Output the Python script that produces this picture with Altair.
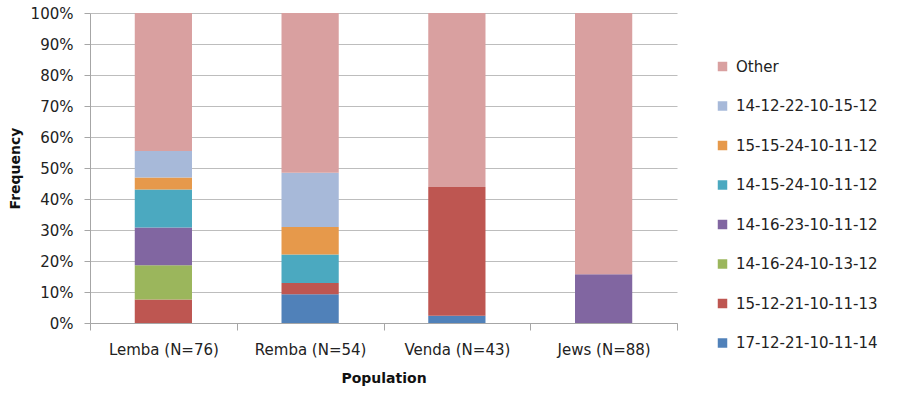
import altair as alt
import pandas as pd

populations = ["Lemba (N=76)", "Remba (N=54)", "Venda (N=43)", "Jews (N=88)"]

# stacked bottom -> top
haplotypes = [
    "17-12-21-10-11-14",
    "15-12-21-10-11-13",
    "14-16-24-10-13-12",
    "14-16-23-10-11-12",
    "14-15-24-10-11-12",
    "15-15-24-10-11-12",
    "14-12-22-10-15-12",
    "Other",
]
colors = ["#5081B9", "#BE5651", "#9BB65C", "#8166A1", "#4BA9C0", "#E6994B", "#A7B9D9", "#D9A0A0"]

# frequency (%) per population, in the order of `populations`
h_17_12_21_10_11_14 = [0.0, 9.3, 2.3, 0.0]
h_15_12_21_10_11_13 = [7.6, 3.6, 41.6, 0.0]
h_14_16_24_10_13_12 = [11.0, 0.0, 0.0, 0.0]
h_14_16_23_10_11_12 = [12.2, 0.0, 0.0, 15.7]
h_14_15_24_10_11_12 = [12.3, 9.2, 0.0, 0.0]
h_15_15_24_10_11_12 = [3.8, 8.9, 0.0, 0.0]
h_14_12_22_10_15_12 = [8.6, 17.5, 0.0, 0.0]
h_other = [44.5, 51.5, 56.1, 84.3]

series = [
    h_17_12_21_10_11_14,
    h_15_12_21_10_11_13,
    h_14_16_24_10_13_12,
    h_14_16_23_10_11_12,
    h_14_15_24_10_11_12,
    h_15_15_24_10_11_12,
    h_14_12_22_10_15_12,
    h_other,
]

rows = []
for i, (h, vals) in enumerate(zip(haplotypes, series)):
    for p, v in zip(populations, vals):
        rows.append({"Population": p, "Haplotype": h, "idx": i, "value": v / 100.0})
df = pd.DataFrame(rows)

legend_order = list(reversed(haplotypes))
legend_colors = list(reversed(colors))

FONT = "DejaVu Sans"

chart = (
    alt.Chart(df)
    .mark_bar(width={"band": 0.39})
    .encode(
        x=alt.X(
            "Population:N",
            sort=populations,
            scale=alt.Scale(paddingInner=0, paddingOuter=0),
            axis=alt.Axis(
                title="Population",
                labelAngle=0,
                tickBand="extent",
                tickSize=7,
                labelPadding=12,
                titlePadding=14,
                labelFontSize=15,
                titleFontSize=14,
            ),
        ),
        y=alt.Y(
            "value:Q",
            stack="zero",
            scale=alt.Scale(domain=[0, 1], nice=False),
            axis=alt.Axis(
                title="Frequency",
                format=".0%",
                values=[i / 10 for i in range(11)],
                tickSize=6,
                labelPadding=11,
                titlePadding=8,
                labelFontSize=15,
                titleFontSize=14,
            ),
        ),
        color=alt.Color(
            "Haplotype:N",
            scale=alt.Scale(domain=legend_order, range=legend_colors),
            legend=alt.Legend(
                title=None,
                orient="none",
                legendX=625,
                legendY=46,
                symbolType="square",
                symbolSize=90,
                symbolStrokeWidth=0,
                labelFontSize=15,
                labelOffset=6,
                rowPadding=23.5,
                padding=0,
            ),
        ),
        order=alt.Order("idx:Q", sort="ascending"),
    )
    .properties(
        width=587,
        height=310,
        padding={"left": 90, "top": 13, "right": 225, "bottom": 97},
        autosize=alt.AutoSizeParams(type="none"),
    )
    .configure(font=FONT)
    .configure_view(stroke=None)
    .configure_axis(
        labelColor="#222222",
        titleColor="#111111",
        titleFontWeight="bold",
        labelFont=FONT,
        titleFont=FONT,
        domainColor="#A6A6A6",
        tickColor="#A6A6A6",
        gridColor="#BDBDBD",
        gridWidth=1.2,
    )
    .configure_axisX(grid=False)
    .configure_legend(labelColor="#222222", labelFont=FONT)
)

chart.save("out.html", embed_options={"renderer": "svg", "actions": False})
